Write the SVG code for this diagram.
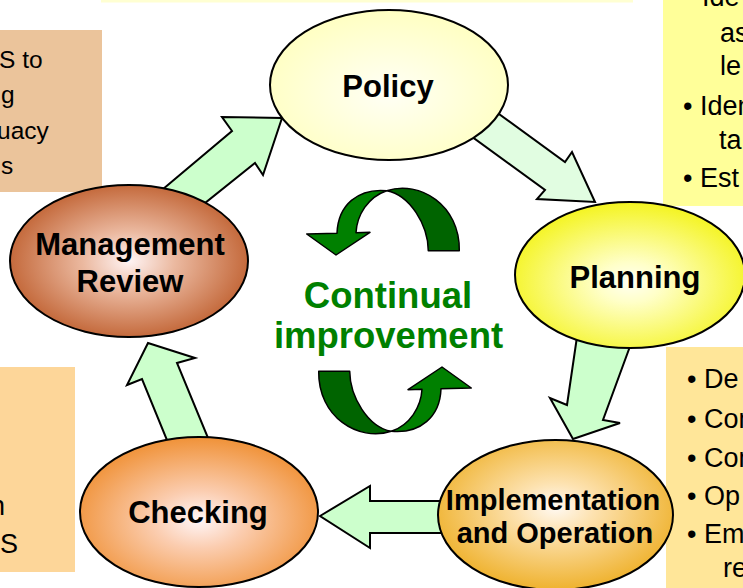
<svg xmlns="http://www.w3.org/2000/svg" width="743" height="588" viewBox="0 0 743 588">
<defs>
<style>
.box text{font-family:"Liberation Sans",Arial,sans-serif;font-size:27px;fill:#000}
.lbl{font-family:"Liberation Sans",Arial,sans-serif;font-weight:bold;font-size:31px;fill:#000;text-anchor:middle}
.node ellipse{stroke:#000;stroke-width:2}
.blk{stroke:#000;stroke-width:2;stroke-linejoin:miter}
.cyc{stroke:#000;stroke-width:1.5;stroke-linejoin:round}
.ci{font-family:"Liberation Sans",Arial,sans-serif;font-weight:bold;font-size:36.5px;fill:#008000;text-anchor:middle}
</style>
<radialGradient id="gPolicy" cx="50%" cy="55%" r="55%"><stop offset="0" stop-color="#FFFFF6"/><stop offset="1" stop-color="#FFFFC2"/></radialGradient>
<radialGradient id="gPlan" cx="50%" cy="55%" r="55%"><stop offset="0" stop-color="#FFFFF2"/><stop offset="0.25" stop-color="#FFFFC8"/><stop offset="1" stop-color="#F4F420"/></radialGradient>
<radialGradient id="gImpl" cx="50%" cy="45%" r="55%"><stop offset="0" stop-color="#FFF9F2"/><stop offset="0.3" stop-color="#FDE2B0"/><stop offset="1" stop-color="#EFB22E"/></radialGradient>
<radialGradient id="gCheck" cx="50%" cy="55%" r="55%"><stop offset="0" stop-color="#FFF6F8"/><stop offset="0.35" stop-color="#FBCDB0"/><stop offset="1" stop-color="#F09238"/></radialGradient>
<radialGradient id="gMgmt" cx="50%" cy="50%" r="55%"><stop offset="0" stop-color="#FFF4F4"/><stop offset="0.35" stop-color="#EBB9A0"/><stop offset="1" stop-color="#BE5D2C"/></radialGradient>
<path id="cycArrowDark" d="M386.7,190.7 C420,180 460,205 459.3,250.7 L428.3,250.7 C428,225 410,195 386.7,190.7 Z"/>
<path id="cycArrowLight" d="M386.7,190.7 C358,188 338,205 337,233.3 L306.7,234 L336,255 L370,232.3 L356,232.7 C357,215 368,197 386.7,190.7 Z"/>
</defs>

<rect width="743" height="588" fill="#FFFFFF"/>

<g id="box-top">
<rect x="101" y="0" width="532" height="2.5" fill="#FFFFD2"/>
</g>
<g id="box-topleft" class="box">
<rect x="0" y="30" width="102" height="162" fill="#EBC49B"/>
<text x="-1" y="68" style="font-size:24.5px">S to</text>
<text x="1" y="103" style="font-size:24.5px">g</text>
<text x="-3" y="139" style="font-size:24.5px">uacy</text>
<text x="1" y="174" style="font-size:24.5px">s</text>
</g>
<g id="box-topright" class="box">
<rect x="663" y="0" width="80" height="206" fill="#FFFF99"/>
<text x="702" y="6">Ide</text>
<text x="720" y="42">as</text>
<text x="720" y="75">le</text>
<text x="683" y="115">• Iden</text>
<text x="719" y="149">ta</text>
<text x="683" y="187">• Est</text>
</g>
<g id="box-bottomright" class="box">
<rect x="666" y="347" width="77" height="241" fill="#FFE699"/>
<text x="687" y="388">• De</text>
<text x="687" y="428">• Com</text>
<text x="687" y="467">• Com</text>
<text x="687" y="505">• Op</text>
<text x="687" y="543">• Em</text>
<text x="723" y="577">re</text>
</g>
<g id="box-bottomleft" class="box">
<rect x="0" y="367" width="75" height="205" fill="#FDD699"/>
<text x="-10" y="515">n</text>
<text x="0" y="553">S</text>
</g>

<g id="connectors">
<polygon class="blk" fill="#CCFFCC" points="150,200 232,131 222,117 282,118 263,175 255,163 190,215"/>
<polygon class="blk" fill="#E1FDE1" points="470,93 565,162 572,152 595,202 537,199 545,190 460,128"/>
<polygon class="blk" fill="#CCFFCC" points="578,330 567,405 550,398 573,439 620,423 603,420 636,330"/>
<polygon class="blk" fill="#CCFFCC" points="320,516 370,486 370,501 450,501 450,533 370,533 370,548"/>
<polygon class="blk" fill="#CCFFCC" points="148,343 195,358 177,363 213,450 171,450 142,379 127,385"/>
</g>

<g id="continual-improvement">
<g id="cycle-upper">
<use href="#cycArrowDark" class="cyc" fill="#006400"/>
<use href="#cycArrowLight" class="cyc" fill="#008000"/>
</g>
<g id="cycle-lower" transform="rotate(180 389 311)">
<use href="#cycArrowDark" class="cyc" fill="#006400"/>
<use href="#cycArrowLight" class="cyc" fill="#008000"/>
</g>
<text class="ci" x="388" y="308">Continual</text>
<text class="ci" x="388.5" y="348">improvement</text>
</g>

<g id="node-policy" class="node">
<ellipse cx="389" cy="85" rx="119" ry="75" fill="url(#gPolicy)"/>
<text class="lbl" x="388" y="97">Policy</text>
</g>
<g id="node-planning" class="node">
<ellipse cx="630" cy="275" rx="115" ry="73" fill="url(#gPlan)"/>
<text class="lbl" x="635" y="288">Planning</text>
</g>
<g id="node-implementation" class="node">
<ellipse cx="555.5" cy="515" rx="117.5" ry="75" fill="url(#gImpl)"/>
<text class="lbl" x="553" y="510" style="font-size:29px">Implementation</text>
<text class="lbl" x="555" y="543" style="font-size:29px">and Operation</text>
</g>
<g id="node-checking" class="node">
<ellipse cx="199" cy="512" rx="119" ry="75" fill="url(#gCheck)"/>
<text class="lbl" x="198" y="523">Checking</text>
</g>
<g id="node-management" class="node">
<ellipse cx="129" cy="261" rx="119" ry="76" fill="url(#gMgmt)"/>
<text class="lbl" x="130" y="255">Management</text>
<text class="lbl" x="130" y="292">Review</text>
</g>
</svg>
